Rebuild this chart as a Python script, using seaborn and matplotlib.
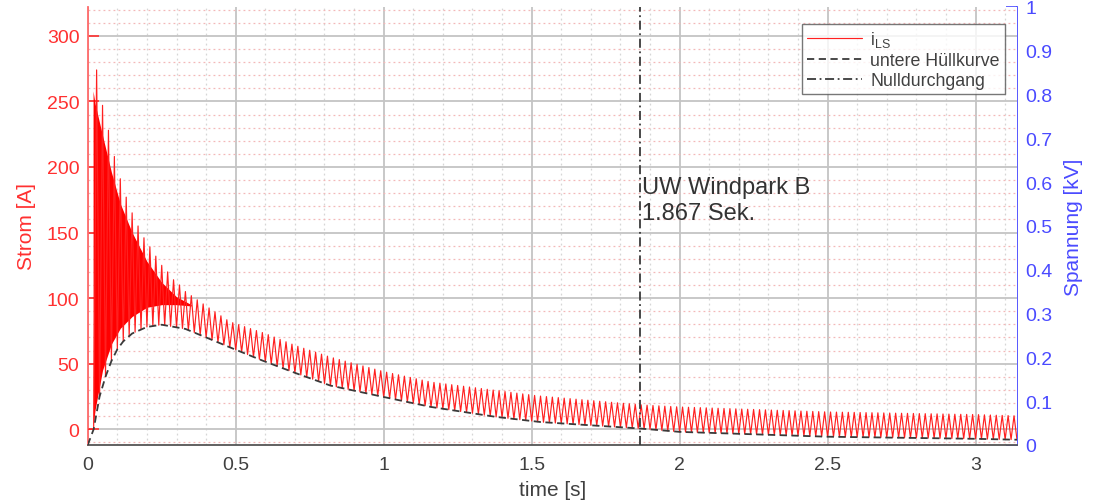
import numpy as np
import pandas as pd
import matplotlib
matplotlib.use("Agg")
import matplotlib.pyplot as plt
import seaborn as sns
from matplotlib.ticker import MultipleLocator, FixedLocator

# Upper envelope (peaks) of the breaker current i_LS in A over time in s
t_upper = [0.03, 0.05, 0.07, 0.09, 0.11, 0.13, 0.15, 0.17, 0.19, 0.21, 0.23,
           0.25, 0.27, 0.29, 0.31, 0.33, 0.40, 0.48, 0.60, 0.70, 0.82, 1.00,
           1.16, 1.38, 1.52, 1.87, 2.00, 2.50, 3.00, 3.14]
i_upper = [274, 247, 228, 208, 191, 177, 165, 155, 146, 139, 132,
           125, 120, 114, 110, 105, 94, 82, 73, 64, 55, 44,
           36, 29.6, 25.5, 18.6, 17.0, 13.2, 11.2, 10.2]

# Lower envelope ("untere Hüllkurve") in A over time in s
t_lower = [0.00, 0.02, 0.04, 0.06, 0.08, 0.10, 0.12, 0.15, 0.20, 0.25, 0.33,
           0.40, 0.48, 0.59, 0.71, 0.82, 1.00, 1.16, 1.38, 1.53, 1.87, 2.00,
           2.50, 3.00, 3.14]
i_lower = [-12, 0, 25, 40, 52, 61, 67, 73, 78, 79.7, 76.5,
           70, 62.5, 52.4, 42.2, 33.3, 24.6, 17.0, 9.4, 5.5, 0.5, -2.0,
           -5.7, -7.3, -8.0]

# Densely oscillating start of i_LS: range covered solidly by the trace (A)
t_band = [0.018, 0.025, 0.05, 0.08, 0.11, 0.15, 0.20, 0.25, 0.30, 0.35]
band_top = [258, 248, 224, 196, 172, 150, 128, 112, 101, 95]
band_bot = [2, 15, 45, 65, 77, 86, 93, 95, 95, 94]

f_netz = 50.0          # mains frequency in Hz
t_null = 1.867         # zero crossing, substation "UW Windpark B"
t_end = 3.14

x_ticks = [0, 0.5, 1, 1.5, 2, 2.5, 3]
x_ticklabels = ["0", "0.5", "1", "1.5", "2", "2.5", "3"]
i_ticks = [0, 50, 100, 150, 200, 250, 300]
u_ticks = [0, 0.1, 0.2, 0.3, 0.4, 0.5, 0.6, 0.7, 0.8, 0.9, 1.0]
u_ticklabels = ["0", "0.1", "0.2", "0.3", "0.4", "0.5", "0.6", "0.7", "0.8", "0.9", "1"]

# The current swings between the two envelopes once per mains period
half = 0.5 / f_netz
t_troughs = np.arange(0.02, t_end + 1e-9, 2 * half)
t_ext = np.sort(np.concatenate([t_troughs, t_troughs + half]))
t_ext = t_ext[t_ext <= t_end]
is_peak = np.isclose(((t_ext - 0.02) / half) % 2, 1)
i_ext = np.where(is_peak,
                 np.interp(t_ext, t_upper, i_upper),
                 np.interp(t_ext, t_lower, i_lower))
df_i = pd.DataFrame({"t": np.concatenate([[0.0], t_ext]),
                     "i": np.concatenate([[0.0], i_ext])})
df_env = pd.DataFrame({"t": t_lower, "i": i_lower})

sns.set_theme(style="white")
plt.rcParams["font.family"] = ["Liberation Sans", "DejaVu Sans"]
plt.rcParams["mathtext.default"] = "regular"

RED = "#ff3030"
RED_AX = "#ff6a6a"
BLUE = "#4a4aff"
GREY_TXT = "#404040"

fig = plt.figure(figsize=(10.94, 5.02), dpi=100)
ax = fig.add_axes([0.0802, 0.1116, 0.8494, 0.8725])
ax.set_facecolor("white")

ax.fill_between(t_band, band_bot, band_top, color="#ff0000", lw=0, zorder=2.5)
sns.lineplot(data=df_i, x="t", y="i", ax=ax, color="#ff2020", lw=0.85,
             estimator=None, sort=False, label=r"$\mathregular{i_{LS}}$", zorder=3)
sns.lineplot(data=df_env, x="t", y="i", ax=ax, color="#3a3a3a", lw=1.3,
             estimator=None, sort=False, linestyle=(0, (4, 2.5)),
             label="untere Hüllkurve", zorder=4)
ax.axvline(t_null, color="#3a3a3a", lw=1.3, linestyle=(0, (5, 2, 1, 2)),
           label="Nulldurchgang", zorder=4)

ax.text(t_null + 0.007, 175, f"UW Windpark B\n{t_null:.3f} Sek.",
        fontsize=17, color="#333333", va="center", ha="left", linespacing=1.25)

ax.set_xlim(0, t_end)
ax.set_ylim(-12, 322)
ax.xaxis.set_major_locator(FixedLocator(x_ticks))
ax.set_xticklabels(x_ticklabels)
ax.xaxis.set_minor_locator(MultipleLocator(0.1))
ax.yaxis.set_major_locator(FixedLocator(i_ticks))
ax.yaxis.set_minor_locator(MultipleLocator(10))

ax.grid(False)
ax.xaxis.grid(True, which="major", color="#c4c4c4", lw=1.3, zorder=0)
ax.yaxis.grid(True, which="major", color="#c4c4c4", lw=1.3, zorder=0)
ax.xaxis.grid(True, which="minor", color="#d6d6d6", lw=0.9, linestyle=(0, (1.5, 2.5)))
ax.yaxis.grid(True, which="minor", color="#f3b8b8", lw=0.9, linestyle=(0, (1.5, 2.5)))
ax.set_axisbelow(True)

ax.tick_params(axis="y", which="major", direction="in", length=8, width=1.2,
               colors=RED, labelsize=14, pad=6)
ax.tick_params(axis="x", which="major", direction="in", length=8, width=1.2,
               colors="#444444", labelcolor=GREY_TXT, labelsize=14, pad=8)
ax.tick_params(which="minor", length=0)

for side in ("top", "right"):
    ax.spines[side].set_visible(False)
ax.spines["left"].set_color(RED_AX)
ax.spines["left"].set_linewidth(1.3)
ax.spines["bottom"].set_color("#555555")
ax.spines["bottom"].set_linewidth(1.3)

ax.set_xlabel("time [s]", fontsize=15, color=GREY_TXT, labelpad=5)
ax.set_ylabel("Strom [A]", fontsize=15, color=RED, labelpad=8)

ax2 = ax.twinx()
ax2.set_ylim(0, 1)
ax2.yaxis.set_major_locator(FixedLocator(u_ticks))
ax2.set_yticklabels(u_ticklabels)
ax2.tick_params(axis="y", direction="in", length=8, width=1.2, colors=BLUE,
                labelsize=14, pad=6)
ax2.grid(False)
for side in ("top", "left", "bottom"):
    ax2.spines[side].set_visible(False)
ax2.spines["right"].set_color(BLUE)
ax2.spines["right"].set_linewidth(1.3)
ax2.set_ylabel("Spannung [kV]", fontsize=15, color=BLUE, labelpad=8)

leg = ax.legend(loc="upper right", bbox_to_anchor=(0.987, 0.961),
                borderaxespad=0, fontsize=12.8, frameon=True, fancybox=False,
                handlelength=3.1, handletextpad=0.45, labelspacing=0.15,
                borderpad=0.3)
leg.get_frame().set_edgecolor("#555555")
leg.get_frame().set_linewidth(1.0)
for txt in leg.get_texts():
    txt.set_color(GREY_TXT)
leg.set_zorder(10)
ax.set_zorder(ax2.get_zorder() + 1)
ax.patch.set_visible(True)
ax2.patch.set_visible(False)

fig.savefig("out.png", dpi=100)
